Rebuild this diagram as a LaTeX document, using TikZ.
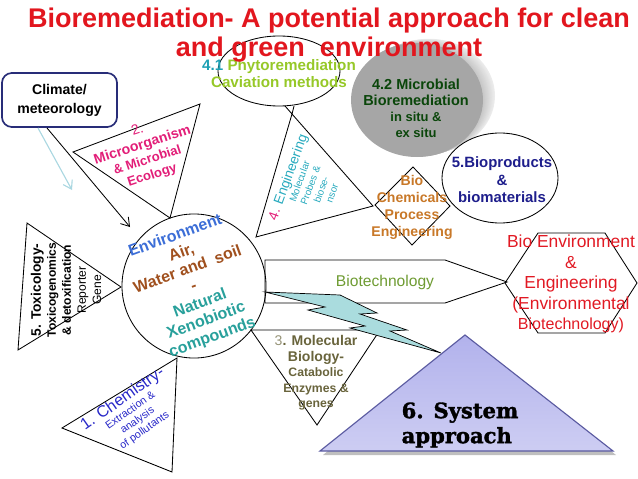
\documentclass[tikz,border=0pt]{standalone}
\usepackage{fontspec}
\setmainfont{Liberation Sans}
\newfontfamily\slabfont[FakeBold=1.6]{DejaVu Serif Bold}
\usetikzlibrary{arrows,arrows.meta}

\definecolor{titlered}{RGB}{226,22,30}
\definecolor{climblue}{RGB}{40,45,120}
\definecolor{arrowcyan}{RGB}{170,215,225}
\definecolor{microred}{RGB}{226,30,120}
\definecolor{phytogreen}{RGB}{150,200,40}
\definecolor{phytoteal}{RGB}{30,160,180}
\definecolor{engteal}{RGB}{40,170,190}
\definecolor{discgray}{RGB}{166,166,166}
\definecolor{discgreen}{RGB}{10,70,10}
\definecolor{prodblue}{RGB}{30,30,140}
\definecolor{chemorange}{RGB}{200,120,40}
\definecolor{envblue}{RGB}{60,110,215}
\definecolor{envbrown}{RGB}{160,80,30}
\definecolor{envteal}{RGB}{40,160,155}
\definecolor{biogreen}{RGB}{110,155,50}
\definecolor{hexred}{RGB}{225,25,35}
\definecolor{mololive}{RGB}{105,100,60}
\definecolor{chemblue}{RGB}{40,40,200}
\definecolor{boltcyan}{RGB}{170,220,222}
\definecolor{sysfill}{RGB}{178,178,236}
\definecolor{sysedge}{RGB}{90,90,160}

\begin{document}
\begin{tikzpicture}[x=0.025cm,y=-0.025cm,
	outline/.style={draw=black,line width=0.6pt},
	lbl/.style={align=center,inner sep=0pt}]
	\useasboundingbox (0,0) rectangle (638,479);

	%SHAPES
	\draw[outline] (73,152)--(200,104)--(170,218)--cycle;	%microorganism
	\draw[outline] (279,71) ellipse (61 and 35);	%phytoremediation
	\draw[outline] (256,237)--(292,114)--(373,206)--cycle;	%engineering
	\draw[outline] (292,114)--(294,106) (292,114)--(285,106);
	%
	\foreach \k in {12,11,...,1}{
		\pgfmathsetmacro\tone{6+1.3*(13-\k)}
		\fill[black!\tone] ({417+\k},{100-0.35*\k}) ellipse (66 and 57);
	}
	\fill[discgray] (417,100) ellipse (66 and 57);	%microbial disc
	%
	\filldraw[outline,fill=white] (500,178) ellipse (58 and 45);	%bioproducts
	\draw[outline] (413,167)--(450,206)--(412,245)--(375,205)--cycle;	%bio chemicals
	\draw[outline] (505,283)--(538,233)--(605,233)--(637,283)--(605,333)--(538,333)--cycle;	%hexagon
	\draw[outline] (265,260)--(445,260)--(507,282)--(445,303)--(265,303)--cycle;	%biotechnology
	\draw[outline] (251,330)--(380,330)--(317,425)--cycle;	%molecular biology
	\draw[outline] (27,223)--(121,287)--(18,350)--cycle;	%toxicology
	\draw[outline] (62,428)--(177,358)--(172,472)--cycle;	%chemistry
	\node[outline,circle,minimum size=3.6cm,inner sep=0pt] (env) at (194,286) {};
	%
	\filldraw[fill=boltcyan,draw=black,line width=0.5pt] (265,292)--(340,295)--(377,313)--(360,314)--(407,330)--(390,331)--(441,353)--(350,328)--(365,326)--(308,310)--(325,307)--cycle;	%bolt
	%
	\fill[black!25] (468,338)--(616,455)--(323,455)--cycle;
	\shadedraw[top color=sysfill,bottom color=sysfill!65!white,draw=sysedge,line width=0.8pt] (465,335)--(613,451)--(320,451)--cycle;	%system

	%CLIMATE
	\node[draw=climblue,line width=1.2pt,rounded corners=7pt,minimum width=2.875cm,minimum height=1.35cm,align=center,font=\bfseries\fontsize{10}{13.5}\selectfont] (climate) at (59.5,100) {Climate/\\meteorology};
	\coordinate (climfoot) at (47,128);
	\coordinate (climtip) at (130,227);
	\coordinate (windfoot) at (38,128);
	\coordinate (windtip) at (72,190);
	\draw[line width=0.6pt,-{Straight Barb[length=2mm,width=2.6mm]}] (climfoot)--(climtip);
	\draw[arrowcyan,line width=0.8pt,-{Straight Barb[length=2mm,width=2.6mm]}] (windfoot)--(windtip);

	%LABELS
	\node[lbl,rotate=18,text=microred,font=\bfseries\fontsize{10}{11.2}\selectfont] (microtext) at (145,153) {{\mdseries 2.}\\Microorganism\\{\fontsize{9.3}{11.2}\selectfont \& Microbial}\\{\fontsize{9.3}{11.2}\selectfont Ecology}};
	\node[lbl,text=phytogreen,font=\bfseries\fontsize{10.8}{12}\selectfont] (phytotext) at (279,74) {\textcolor{phytoteal}{4.1} Phytoremediation\\Caviation methods};
	\node[lbl,rotate=70,text=engteal,font=\fontsize{7}{8.2}\selectfont] (engtext) at (309,185) {{\fontsize{9.8}{11}\selectfont\textcolor{microred}{4.} Engineering}\\Molecular\\Probes \&\\biose-\\nsor};
	\node[lbl,text=discgreen,font=\bfseries\fontsize{10.3}{11.4}\selectfont] (microbio) at (416,108) {4.2 Microbial\\Bioremediation\\{\fontsize{9.2}{11.4}\selectfont in situ \&}\\{\fontsize{9.2}{11.4}\selectfont ex situ}};
	\node[lbl,text=prodblue,font=\bfseries\fontsize{10.6}{12.5}\selectfont] (prodtext) at (502,180) {5.Bioproducts\\\&\\biomaterials};
	\node[lbl,text=chemorange,font=\bfseries\fontsize{10}{12.1}\selectfont] (biochem) at (412,207) {Bio\\Chemicals\\Process\\Engineering};
	\node[lbl,text=hexred,font=\fontsize{12.4}{14.6}\selectfont] (bioenv) at (571,284) {Bio Environment\\\&\\Engineering\\(Environmental\\{\fontsize{11.4}{13}\selectfont Biotechnology)}};
	\node[lbl,text=biogreen,font=\fontsize{11.1}{13}\selectfont] (biotech) at (385,282) {Biotechnology};
	\node[lbl,rotate=20,font=\bfseries\fontsize{11.4}{12.8}\selectfont] (envtext) at (194,287) {\textcolor{envblue}{Environment}\\\textcolor{envbrown}{Air,}\\\textcolor{envbrown}{Water and\ \ soil}\\\textcolor{envbrown}{-}\\\textcolor{envteal}{Natural}\\\textcolor{envteal}{Xenobiotic}\\\textcolor{envteal}{compounds}};
	\node[lbl,rotate=90,font=\bfseries\fontsize{8.6}{10.7}\selectfont] (toxtext) at (66,290) {{\fontsize{9.8}{11}\selectfont 5. Toxicology-}\\Toxicogenomics\\\& detoxification\\{\mdseries Reporter}\\{\mdseries Gene}};
	\node[lbl,rotate=35,text=chemblue,font=\fontsize{7.6}{8.7}\selectfont] (chemtext) at (133,414) {{\fontsize{11.5}{12}\selectfont 1. Chemistry-}\\Extraction \&\\analysis\\of pollutants};
	\node[lbl,text=mololive,font=\bfseries\fontsize{8.7}{11}\selectfont] (moltext) at (316,373) {{\fontsize{10}{11}\selectfont{\mdseries\color{mololive!70}3}. Molecular}\\{\fontsize{10}{11}\selectfont Biology-}\\Catabolic\\Enzymes \&\\genes};
	\node[lbl,align=left,font=\slabfont\fontsize{15}{17.8}\selectfont] (systext) at (460,425) {6. System\\approach};

	%TITLE
	\node[lbl,text=titlered,font=\bfseries\fontsize{19.2}{20.6}\selectfont] (title) at (329,35) {Bioremediation- A potential approach for clean\\and green\ \ environment};
\end{tikzpicture}
\end{document}
